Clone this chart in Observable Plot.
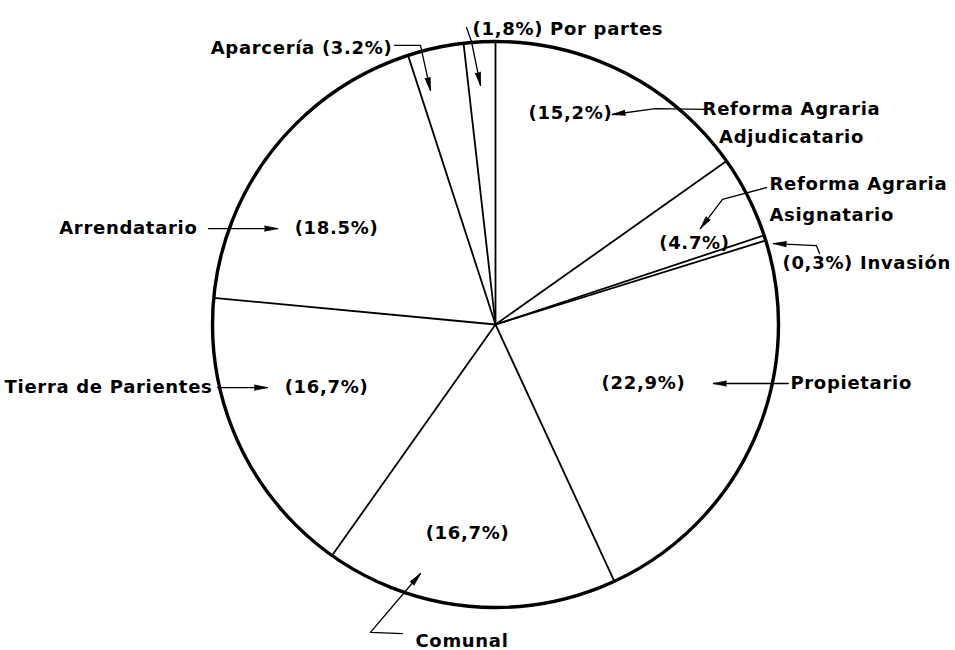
<!DOCTYPE html>
<html>
<head>
<meta charset="utf-8">
<script src="https://cdn.jsdelivr.net/npm/d3@7"></script>
<script src="https://cdn.jsdelivr.net/npm/@observablehq/plot@0.6"></script>
<style>
  body { margin: 0; background: #ffffff; }
  #chart svg { display: block; }
  #chart svg text { letter-spacing: 0.7px; }
</style>
</head>
<body>
<div id="chart"></div>
<script>
// ---- Data (clockwise from 12 o'clock) ----
const categories = [
  "Reforma Agraria Adjudicatario",
  "Reforma Agraria Asignatario",
  "Invasión",
  "Propietario",
  "Comunal",
  "Tierra de Parientes",
  "Arrendatario",
  "Aparcería",
  "Por partes"
];
const values = [15.2, 4.7, 0.3, 22.9, 16.7, 16.7, 18.5, 3.2, 1.8];
const pctLabels = ["(15,2%)", "(4.7%)", "(0,3%)", "(22,9%)", "(16,7%)", "(16,7%)", "(18.5%)", "(3.2%)", "(1,8%)"];
// how each category name is written beside the pie (line breaks / combined with its percentage)
const nameText = [
  ["Reforma Agraria", "Adjudicatario"],
  ["Reforma Agraria", "Asignatario"],
  [pctLabels[2] + " " + categories[2]],
  [categories[3]],
  [categories[4]],
  [categories[5]],
  [categories[6]],
  [categories[7] + " " + pctLabels[7]],
  [pctLabels[8] + " " + categories[8]]
];

// ---- Layout (in units of the pie radius, y pointing down) ----
const R = 283, W = 955, H = 650, CX = 495, CY = 324;
// percentage label inside the slice: angular shift from mid-angle (deg) and radius fraction; null = shown outside
const pctLayout = [
  {shift: -7.8, r: 0.791},
  {shift: 4.7, r: 0.759},
  null,
  {shift: -2.2, r: 0.563},
  {shift: 2.4, r: 0.745},
  {shift: 4.2, r: 0.637},
  {shift: -7.6, r: 0.656},
  null,
  null
];
const nameLayout = [
  {anchor: "middle", x: 1.046, y: -0.760, gap: 0.099},
  {anchor: "start", x: 0.968, y: -0.495, gap: 0.110},
  {anchor: "start", x: 1.014, y: -0.216},
  {anchor: "start", x: 1.042, y: 0.208},
  {anchor: "start", x: -0.283, y: 1.120},
  {anchor: "end", x: -1.000, y: 0.223},
  {anchor: "end", x: -1.053, y: -0.339},
  {anchor: "end", x: -0.364, y: -0.975},
  {anchor: "start", x: -0.081, y: -1.042}
];
// leader lines from name to slice (last point = arrow tip)
const leaders = [
  [[0.739, -0.760], [0.565, -0.763], [0.413, -0.742]],
  [[0.958, -0.484], [0.802, -0.442], [0.724, -0.339]],
  [[1.145, -0.251], [1.134, -0.279], [0.982, -0.286]],
  [[1.035, 0.2085], [0.770, 0.2085]],
  [[-0.329, 1.092], [-0.442, 1.088], [-0.265, 0.880]],
  [[-0.982, 0.223], [-0.806, 0.223]],
  [[-1.014, -0.339], [-0.770, -0.339]],
  [[-0.357, -0.986], [-0.265, -0.986], [-0.230, -0.827]],
  [[-0.1025, -1.050], [-0.085, -1.000], [-0.053, -0.845]]
];

// ---- Derived geometry ----
const total = d3.sum(values);
const cum = d3.cumsum(values);
const starts = values.map((v, i) => (i === 0 ? 0 : cum[i - 1]));
const toDeg = p => (p / total) * 360;
const polar = (deg, r) => ({x: r * Math.sin(deg * Math.PI / 180), y: -r * Math.cos(deg * Math.PI / 180)});

const boundaries = starts.map(s => polar(toDeg(s), 1));

const pctData = [];
values.forEach((v, i) => {
  const L = pctLayout[i];
  if (!L) return;
  const mid = toDeg(starts[i] + v / 2);
  const p = polar(mid + L.shift, L.r);
  pctData.push({x: p.x, y: p.y, text: pctLabels[i]});
});

const nameData = [];
nameText.forEach((lines, i) => {
  const L = nameLayout[i];
  lines.forEach((t, j) => nameData.push({x: L.x, y: L.y + j * (L.gap || 0), text: t, anchor: L.anchor}));
});

const leaderPts = leaders.flatMap((pts, i) => pts.map(([x, y]) => ({x, y, id: i})));
const tips = leaders.map(pts => {
  const [a, b] = pts.slice(-2);
  const ang = Math.atan2(b[0] - a[0], -(b[1] - a[1])) * 180 / Math.PI;
  return {x: b[0], y: b[1], rot: ang};
});

const font = {fontSize: 18, fontWeight: "bold", fontFamily: "DejaVu Sans", fill: "black"};

const chart = Plot.plot({
  width: W,
  height: H,
  margin: 0,
  style: {background: "white", overflow: "visible"},
  x: {domain: [-CX / R, (W - CX) / R], range: [0, W], axis: null},
  y: {domain: [-CY / R, (H - CY) / R], range: [0, H], axis: null},
  marks: [
    Plot.link(boundaries, {x1: () => 0, y1: () => 0, x2: "x", y2: "y", stroke: "black", strokeWidth: 1.8}),
    Plot.dot([{x: 0, y: 0}], {x: "x", y: "y", r: R, fill: "none", stroke: "black", strokeWidth: 3.4}),
    Plot.line(leaderPts, {x: "x", y: "y", z: "id", stroke: "black", strokeWidth: 1.3}),
    Plot.vector(tips, {x: "x", y: "y", rotate: "rot", length: 13, anchor: "end", shape: "spike", r: 2.6,
      fill: "black", fillOpacity: 1, stroke: "black", strokeWidth: 0.8}),
    Plot.text(pctData, {x: "x", y: "y", text: "text", textAnchor: "middle", ...font}),
    Plot.text(nameData.filter(d => d.anchor === "start"), {x: "x", y: "y", text: "text", textAnchor: "start", ...font}),
    Plot.text(nameData.filter(d => d.anchor === "middle"), {x: "x", y: "y", text: "text", textAnchor: "middle", ...font}),
    Plot.text(nameData.filter(d => d.anchor === "end"), {x: "x", y: "y", text: "text", textAnchor: "end", ...font})
  ]
});
document.getElementById("chart").appendChild(chart);
</script>
</body>
</html>
